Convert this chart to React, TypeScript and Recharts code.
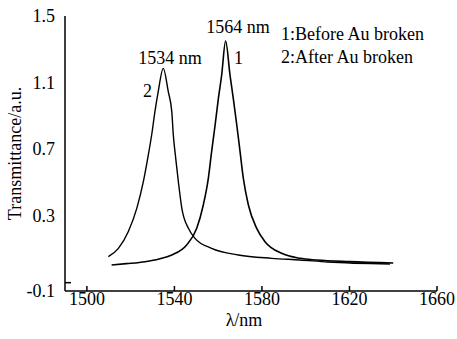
import React from 'react';
import { LineChart, Line, XAxis, YAxis, ReferenceDot } from 'recharts';

// curve 1: before Au broken (peak near 1564 nm)
const beforeLambda = [
  1511.3, 1518.0, 1526.6, 1533.0, 1538.8, 1545.6, 1550.2, 1553.2, 1555.5, 1557.0, 1558.6,
  1560.1, 1561.6, 1563.4, 1565.4, 1566.9, 1568.5, 1570.0, 1571.5, 1573.8, 1577.6, 1581.4,
  1589.0, 1597.4, 1605.0, 1620.0, 1640.0,
];
const beforeValue = [
  0.006, 0.014, 0.026, 0.042, 0.066, 0.126, 0.226, 0.366, 0.526, 0.686, 0.846,
  1.006, 1.146, 1.35, 1.146, 1.006, 0.846, 0.686, 0.526, 0.366, 0.226, 0.146,
  0.076, 0.046, 0.036, 0.026, 0.018,
];

// curve 2: after Au broken (peak near 1534 nm)
const afterLambda = [
  1509.8, 1514.4, 1518.9, 1522.8, 1525.8, 1527.8, 1529.6, 1531.1, 1532.6, 1534.9, 1537.2,
  1538.8, 1539.5, 1540.6, 1541.8, 1543.4, 1546.4, 1549.4, 1557.0, 1569.2, 1584.5, 1597.4,
  1610.0, 1638.5,
];
const afterValue = [
  0.056, 0.106, 0.206, 0.346, 0.506, 0.646, 0.786, 0.926, 1.046, 1.186, 1.046,
  0.926, 0.786, 0.646, 0.506, 0.346, 0.226, 0.166, 0.106, 0.066, 0.046, 0.036,
  0.024, 0.012,
];

const xTicks = [1500, 1540, 1580, 1620, 1660];
const yTicks = [-0.1, 0.3, 0.7, 1.1, 1.5];

const before = beforeLambda.map((lambda, i) => ({ lambda, v: beforeValue[i] }));
const after = afterLambda.map((lambda, i) => ({ lambda, v: afterValue[i] }));

const txt = { fontSize: 18, fontFamily: 'Liberation Serif', fill: '#000' };

function YTick(props: any) {
  const { x, y, payload } = props;
  const low = payload.value === -0.1;
  return (
    <g>
      {low && <line x1={x + 10} x2={x + 16} y1={y} y2={y} stroke="#000" strokeWidth={1.5} />}
      <text x={x} y={low ? y + 8.5 : y} textAnchor="end" dominantBaseline="central" {...txt}>
        {payload.value}
      </text>
    </g>
  );
}

const dotProps = { r: 1, fillOpacity: 0, strokeOpacity: 0 };

export default function App() {
  return (
    <div style={{ position: 'absolute', left: 0, top: 0, width: 457, height: 339, background: '#fff' }}>
      <LineChart width={457} height={339} margin={{ top: 16, right: 20, bottom: 0, left: 0 }}>
        <XAxis
          dataKey="lambda"
          type="number"
          domain={[1490, 1660]}
          ticks={xTicks}
          allowDataOverflow
          height={48}
          tickSize={-5}
          tickMargin={6}
          tick={txt}
          tickLine={{ stroke: '#000', strokeWidth: 1.5 }}
          axisLine={{ stroke: '#000', strokeWidth: 1.5 }}
          label={{
            content: (p: any) => {
              const vb = p.viewBox;
              return (
                <text x={vb.x + vb.width / 2 - 7} y={vb.y + 35} textAnchor="middle" {...txt}>
                  λ/nm
                </text>
              );
            },
          }}
        />
        <XAxis
          xAxisId="top"
          orientation="top"
          type="number"
          domain={[1490, 1660]}
          height={0}
          tick={false}
          tickLine={false}
          axisLine={{ stroke: '#000', strokeWidth: 1.5 }}
        />
        <YAxis
          type="number"
          domain={[-0.15, 1.5]}
          ticks={yTicks}
          allowDataOverflow
          width={65}
          tickSize={0}
          tickMargin={10}
          tickLine={false}
          tick={<YTick />}
          axisLine={{ stroke: '#000', strokeWidth: 1.5 }}
          label={{
            content: (p: any) => {
              const vb = p.viewBox;
              const cx = vb.x + 15;
              const cy = vb.y + vb.height / 2;
              return (
                <text
                  x={cx}
                  y={cy}
                  transform={`rotate(-90 ${cx} ${cy})`}
                  textAnchor="middle"
                  dominantBaseline="central"
                  {...txt}
                >
                  Transmittance/a.u.
                </text>
              );
            },
          }}
        />
        <YAxis
          yAxisId="right"
          orientation="right"
          width={0}
          tick={false}
          tickLine={false}
          axisLine={{ stroke: '#000', strokeWidth: 1.5 }}
        />
        <Line
          data={after}
          dataKey="v"
          type="monotone"
          stroke="#000"
          strokeWidth={1.4}
          dot={false}
          isAnimationActive={false}
        />
        <Line
          data={before}
          dataKey="v"
          type="monotone"
          stroke="#000"
          strokeWidth={1.6}
          dot={false}
          isAnimationActive={false}
        />
        <ReferenceDot x={1569.1} y={1.434} {...dotProps} label={{ value: '1564 nm', position: 'center', ...txt }} />
        <ReferenceDot x={1538.0} y={1.251} {...dotProps} label={{ value: '1534 nm', position: 'center', ...txt }} />
        <ReferenceDot x={1527.7} y={1.05} {...dotProps} label={{ value: '2', position: 'center', ...txt }} />
        <ReferenceDot x={1569.3} y={1.251} {...dotProps} label={{ value: '1', position: 'center', ...txt }} />
        <ReferenceDot x={1588.3} y={1.392} {...dotProps} label={{ value: '1:Before Au broken', position: 'right', offset: 0, ...txt }} />
        <ReferenceDot x={1588.3} y={1.257} {...dotProps} label={{ value: '2:After Au broken', position: 'right', offset: 0, ...txt }} />
      </LineChart>
    </div>
  );
}
